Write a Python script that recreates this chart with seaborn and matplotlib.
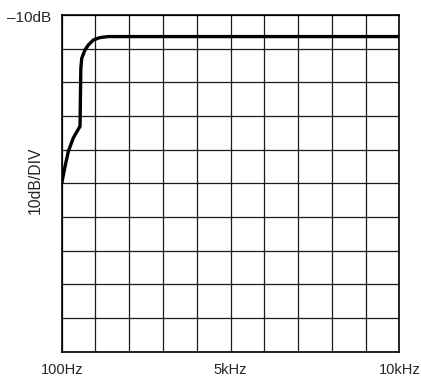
import matplotlib
matplotlib.use("Agg")
import matplotlib.pyplot as plt
import numpy as np
import pandas as pd
import seaborn as sns

## data (Hz, dB)
freq_hz = [100, 197, 294, 440, 610, 637, 660, 686, 780, 880, 1030, 1223, 1470, 1960, 10000]
level_db = [-60.0, -55.0, -50.5, -46.5, -43.5, -43.1, -26.0, -22.9, -20.4, -18.9, -17.4, -16.7, -16.4, -16.4, -16.4]

x_ticks = [100, 5050, 10000]
x_labels = ["100Hz", "5kHz", "10kHz"]
top_db = -10
db_per_div = 10
n_div = 10

df = pd.DataFrame({"freq": freq_hz, "level": level_db})

sns.set_style("white")
plt.rcParams["font.family"] = ["Liberation Sans", "DejaVu Sans"]

fig = plt.figure(figsize=(4.21, 3.81), dpi=100)
ax = fig.add_axes([0.1466, 0.0769, 0.8019, 0.8837])

sns.lineplot(data=df, x="freq", y="level", ax=ax, color="black", linewidth=2.4, sort=False)

ax.set_xlim(100, 10000)
ax.set_ylim(top_db - db_per_div * n_div, top_db)
ax.set_xticks(x_ticks)
ax.set_xticklabels(x_labels, fontsize=10.5)
ax.set_yticks([])
# grid = 10 x 10 divisions
for xv in np.linspace(100, 10000, n_div + 1):
    ax.axvline(xv, color="#1a1a1a", linewidth=0.9, zorder=0)
for yv in np.linspace(top_db - db_per_div * n_div, top_db, n_div + 1):
    ax.axhline(yv, color="#1a1a1a", linewidth=0.9, zorder=0)
ax.tick_params(axis="x", length=0, pad=8)
ax.set_xlabel("")
ax.set_ylabel("")
for s in ax.spines.values():
    s.set_color("black")
    s.set_linewidth(1.2)

fig.text(0.083, 0.528, "10dB/DIV", rotation=90, ha="center", va="center", fontsize=11.3)
fig.text(0.121, 0.954, "\u201310dB", ha="right", va="center", fontsize=11)

fig.savefig("out.png", dpi=100)
